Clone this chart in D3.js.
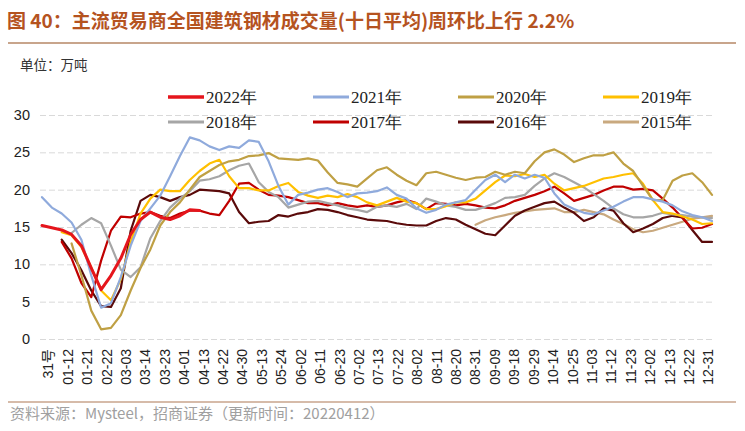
<!DOCTYPE html>
<html><head><meta charset="utf-8">
<script src="https://cdn.jsdelivr.net/npm/d3@7"></script>
<style>
body{margin:0;background:#fff;}
svg{display:block;}
</style></head>
<body>
<svg id="chart" width="745" height="431"></svg>
<script>
const xLabels = ["31号","01-12","01-21","02-22","03-03","03-14","03-23","04-01","04-13","04-22","04-30","05-13","05-24","06-02","06-11","06-23","07-02","07-13","07-22","08-02","08-11","08-20","08-31","09-09","09-18","09-29","10-14","10-25","11-03","11-12","11-23","12-02","12-13","12-22","12-31"];
const yTicks = [0,5,10,15,20,25,30];
const seriesNames = ["2022年","2021年","2020年","2019年","2018年","2017年","2016年","2015年"];
const seriesColors = ["#E5151C","#8FAADC","#BFA044","#FFC000","#A6A6A6","#C00000","#5A0A0A","#C9A97F"];
const N = null;
const s2022 = [15.2,14.9,14.6,14.0,12.5,9.5,6.6,8.5,10.8,14.0,16.0,17.0,16.3,16.0,16.5,17.3,17.2];
const s2021 = [19.0,17.6,16.8,15.6,13.3,8.5,4.2,4.8,8.3,12.5,15.8,17.5,19.2,21.8,24.5,27.0,26.6,25.8,25.3,25.8,25.6,26.6,26.4,23.8,20.5,18.0,19.3,19.6,20.0,20.2,19.7,19.0,19.5,19.6,19.8,20.3,19.3,18.8,17.5,16.9,17.3,18.0,18.3,18.6,20.0,21.3,22.0,21.0,22.0,21.5,22.0,21.6,19.5,18.0,17.4,16.9,16.7,17.2,17.7,18.4,19.0,19.0,18.7,18.4,17.9,17.1,16.6,16.3,15.8];
const s2020 = [N,N,N,12.8,8.5,3.8,1.3,1.5,3.2,6.5,9.5,12.0,15.2,17.0,18.3,20.0,21.7,22.5,23.3,23.8,24.0,24.5,24.6,24.9,24.2,24.1,24.0,24.2,23.9,22.3,20.9,20.7,20.4,21.5,22.6,23.0,22.0,21.2,20.6,22.2,22.4,22.0,21.6,21.3,21.6,21.7,22.4,22.0,22.4,22.2,23.8,25.0,25.4,24.7,23.7,24.2,24.6,24.6,25.0,23.5,22.5,20.5,18.6,18.6,21.2,21.9,22.2,21.0,19.3];
const s2019 = [N,N,14.3,13.9,12.3,9.6,6.5,5.2,8.0,13.0,16.8,18.8,20.0,19.8,19.8,21.3,22.5,23.5,24.0,21.8,20.2,20.2,19.9,19.9,20.5,20.9,19.7,19.2,18.9,19.2,19.0,19.4,19.0,18.3,17.9,18.4,18.9,18.4,18.2,17.4,17.4,17.8,18.3,18.3,18.8,19.9,21.0,21.9,21.8,22.1,21.7,22.0,20.8,19.9,20.2,20.5,21.0,21.5,21.7,22.0,22.2,20.8,18.6,17.0,16.8,16.4,16.0,15.4,15.5];
const s2018 = [N,N,N,14.2,15.3,16.2,15.5,12.5,9.3,8.3,9.6,13.5,15.8,17.6,18.8,19.8,21.2,21.4,21.8,22.6,23.2,23.5,21.0,19.7,19.0,17.6,18.0,18.4,18.5,18.2,17.9,17.5,17.3,17.0,17.7,17.9,17.7,18.1,17.4,18.8,18.4,17.9,17.7,17.3,17.3,17.7,18.2,18.9,19.0,19.3,20.5,21.5,22.2,21.7,21.0,20.3,19.4,18.5,17.5,16.7,16.3,16.3,16.5,16.9,16.7,16.6,16.4,16.3,16.2];
const s2017 = [N,N,13.0,10.8,7.5,5.6,10.5,14.5,16.4,16.3,16.8,17.0,16.5,16.2,16.8,17.2,17.2,16.8,16.6,18.5,20.8,20.9,20.0,19.3,19.2,19.0,18.6,18.2,18.2,17.9,18.2,17.9,17.7,17.9,17.7,17.9,18.3,18.6,18.2,17.4,18.2,18.1,17.9,18.1,17.9,17.6,17.5,17.9,18.5,18.9,19.3,19.8,20.4,19.5,18.5,18.9,19.3,19.9,20.4,20.4,20.0,20.1,19.9,18.8,17.6,16.2,14.8,14.9,15.4];
const s2016 = [N,N,13.3,11.5,9.2,6.5,4.4,4.3,6.8,14.5,18.5,19.3,19.0,18.5,19.0,19.3,20.0,19.9,19.8,19.5,17.0,15.5,15.7,15.8,16.6,16.4,16.8,17.0,17.4,17.3,17.0,16.6,16.3,16.0,15.9,15.8,15.5,15.3,15.2,15.2,15.8,16.2,16.0,15.3,14.7,14.1,13.9,15.2,16.5,17.2,17.7,18.2,18.4,17.6,16.9,15.8,16.3,17.5,17.2,15.5,14.3,14.8,15.4,16.2,16.5,16.3,14.6,13.0,13.0];
const s2015 = [N,N,N,N,N,N,N,N,N,N,N,N,N,N,N,N,N,N,N,N,N,N,N,N,N,N,N,N,N,N,N,N,N,N,N,N,N,N,N,N,N,N,N,N,15.3,15.9,16.3,16.6,16.9,17.1,17.3,17.4,17.5,17.0,17.0,17.3,17.0,16.7,16.0,15.4,14.7,14.3,14.5,14.9,15.3,15.7,16.1,16.3,16.5];
const seriesValues = [s2022,s2021,s2020,s2019,s2018,s2017,s2016,s2015];

const svg = d3.select("#chart");
const plot = {left:42, right:712, top:115, bottom:339};
const nPts = 69;

const x = d3.scaleLinear().domain([0, nPts-1]).range([plot.left, plot.right]);
const y = d3.scaleLinear().domain([0, 30]).range([plot.bottom, plot.top]);
const xl = d3.scalePoint().domain(xLabels).range([x(0.6), x(67.6)]);

// title
svg.append("text").attr("x",7).attr("y",28)
  .attr("font-family","'Noto Sans CJK SC', sans-serif").attr("font-weight","bold")
  .attr("font-size",19).attr("fill","#B5531F")
  .text("图 40：主流贸易商全国建筑钢材成交量(十日平均)周环比上行 2.2%");
svg.append("line").attr("x1",8).attr("x2",736).attr("y1",43).attr("y2",43)
  .attr("stroke","#C8A58C").attr("stroke-width",2);

svg.append("text").attr("x",20).attr("y",70)
  .attr("font-family","'Noto Sans CJK SC', sans-serif").attr("font-size",13.5).attr("fill","#333")
  .text("单位：万吨");

// gridlines + y labels
const gy = svg.append("g").attr("transform",`translate(40,0)`)
  .call(d3.axisLeft(y).tickValues(yTicks).tickSize(-(plot.right-40)).tickPadding(8));
gy.select(".domain").remove();
gy.selectAll(".tick line").attr("stroke","#D9D9D9").attr("stroke-dasharray","6,3");
gy.selectAll(".tick text").attr("font-family","Arial, 'Liberation Sans', sans-serif")
  .attr("font-size",14.5).attr("fill","#222").attr("x",-10);

// x labels
const gx = svg.append("g").attr("transform",`translate(0,${plot.bottom+10})`)
  .call(d3.axisBottom(xl).tickSize(0).tickPadding(0));
gx.select(".domain").remove();
gx.selectAll(".tick text")
  .attr("font-family","Arial, 'Liberation Sans', 'Noto Sans CJK SC', sans-serif")
  .attr("font-size",14).attr("fill","#222")
  .attr("text-anchor","end").attr("transform","rotate(-90)")
  .attr("x",0).attr("y",0).attr("dy","0.35em");

// lines
const line = d3.line().defined(d => d != null).x((d,i) => x(i)).y(d => y(d));
const order = [7,6,5,4,3,2,1,0];
const gl = svg.append("g");
order.forEach(k => {
  gl.append("path").datum(seriesValues[k])
    .attr("fill","none").attr("stroke",seriesColors[k])
    .attr("stroke-width", k===0 ? 3 : 2.2)
    .attr("stroke-linejoin","round").attr("stroke-linecap","round")
    .attr("d", line);
});

// legend
const legCols = [168, 313, 458, 603];
const legRows = [97, 122];
const lg = svg.append("g");
seriesNames.forEach((nm,i) => {
  const cx = legCols[i%4], cy = legRows[Math.floor(i/4)];
  lg.append("line").attr("x1",cx).attr("x2",cx+36).attr("y1",cy).attr("y2",cy)
    .attr("stroke",seriesColors[i]).attr("stroke-width", i===0?3.5:3);
  lg.append("text").attr("x",cx+38).attr("y",cy).attr("dy","0.36em")
    .attr("font-family","'Liberation Serif', 'DejaVu Serif', serif")
    .attr("font-size",17).attr("fill","#222").text(nm);
});

// footer
svg.append("line").attr("x1",8).attr("x2",736).attr("y1",402).attr("y2",402)
  .attr("stroke","#C8A58C").attr("stroke-width",1.5);
svg.append("text").attr("x",10).attr("y",419)
  .attr("font-family","'Noto Sans CJK SC', Arial, sans-serif").attr("font-size",15).attr("fill","#A0A0A0")
  .text("资料来源：Mysteel，招商证券（更新时间：20220412）");
</script>
</body></html>
